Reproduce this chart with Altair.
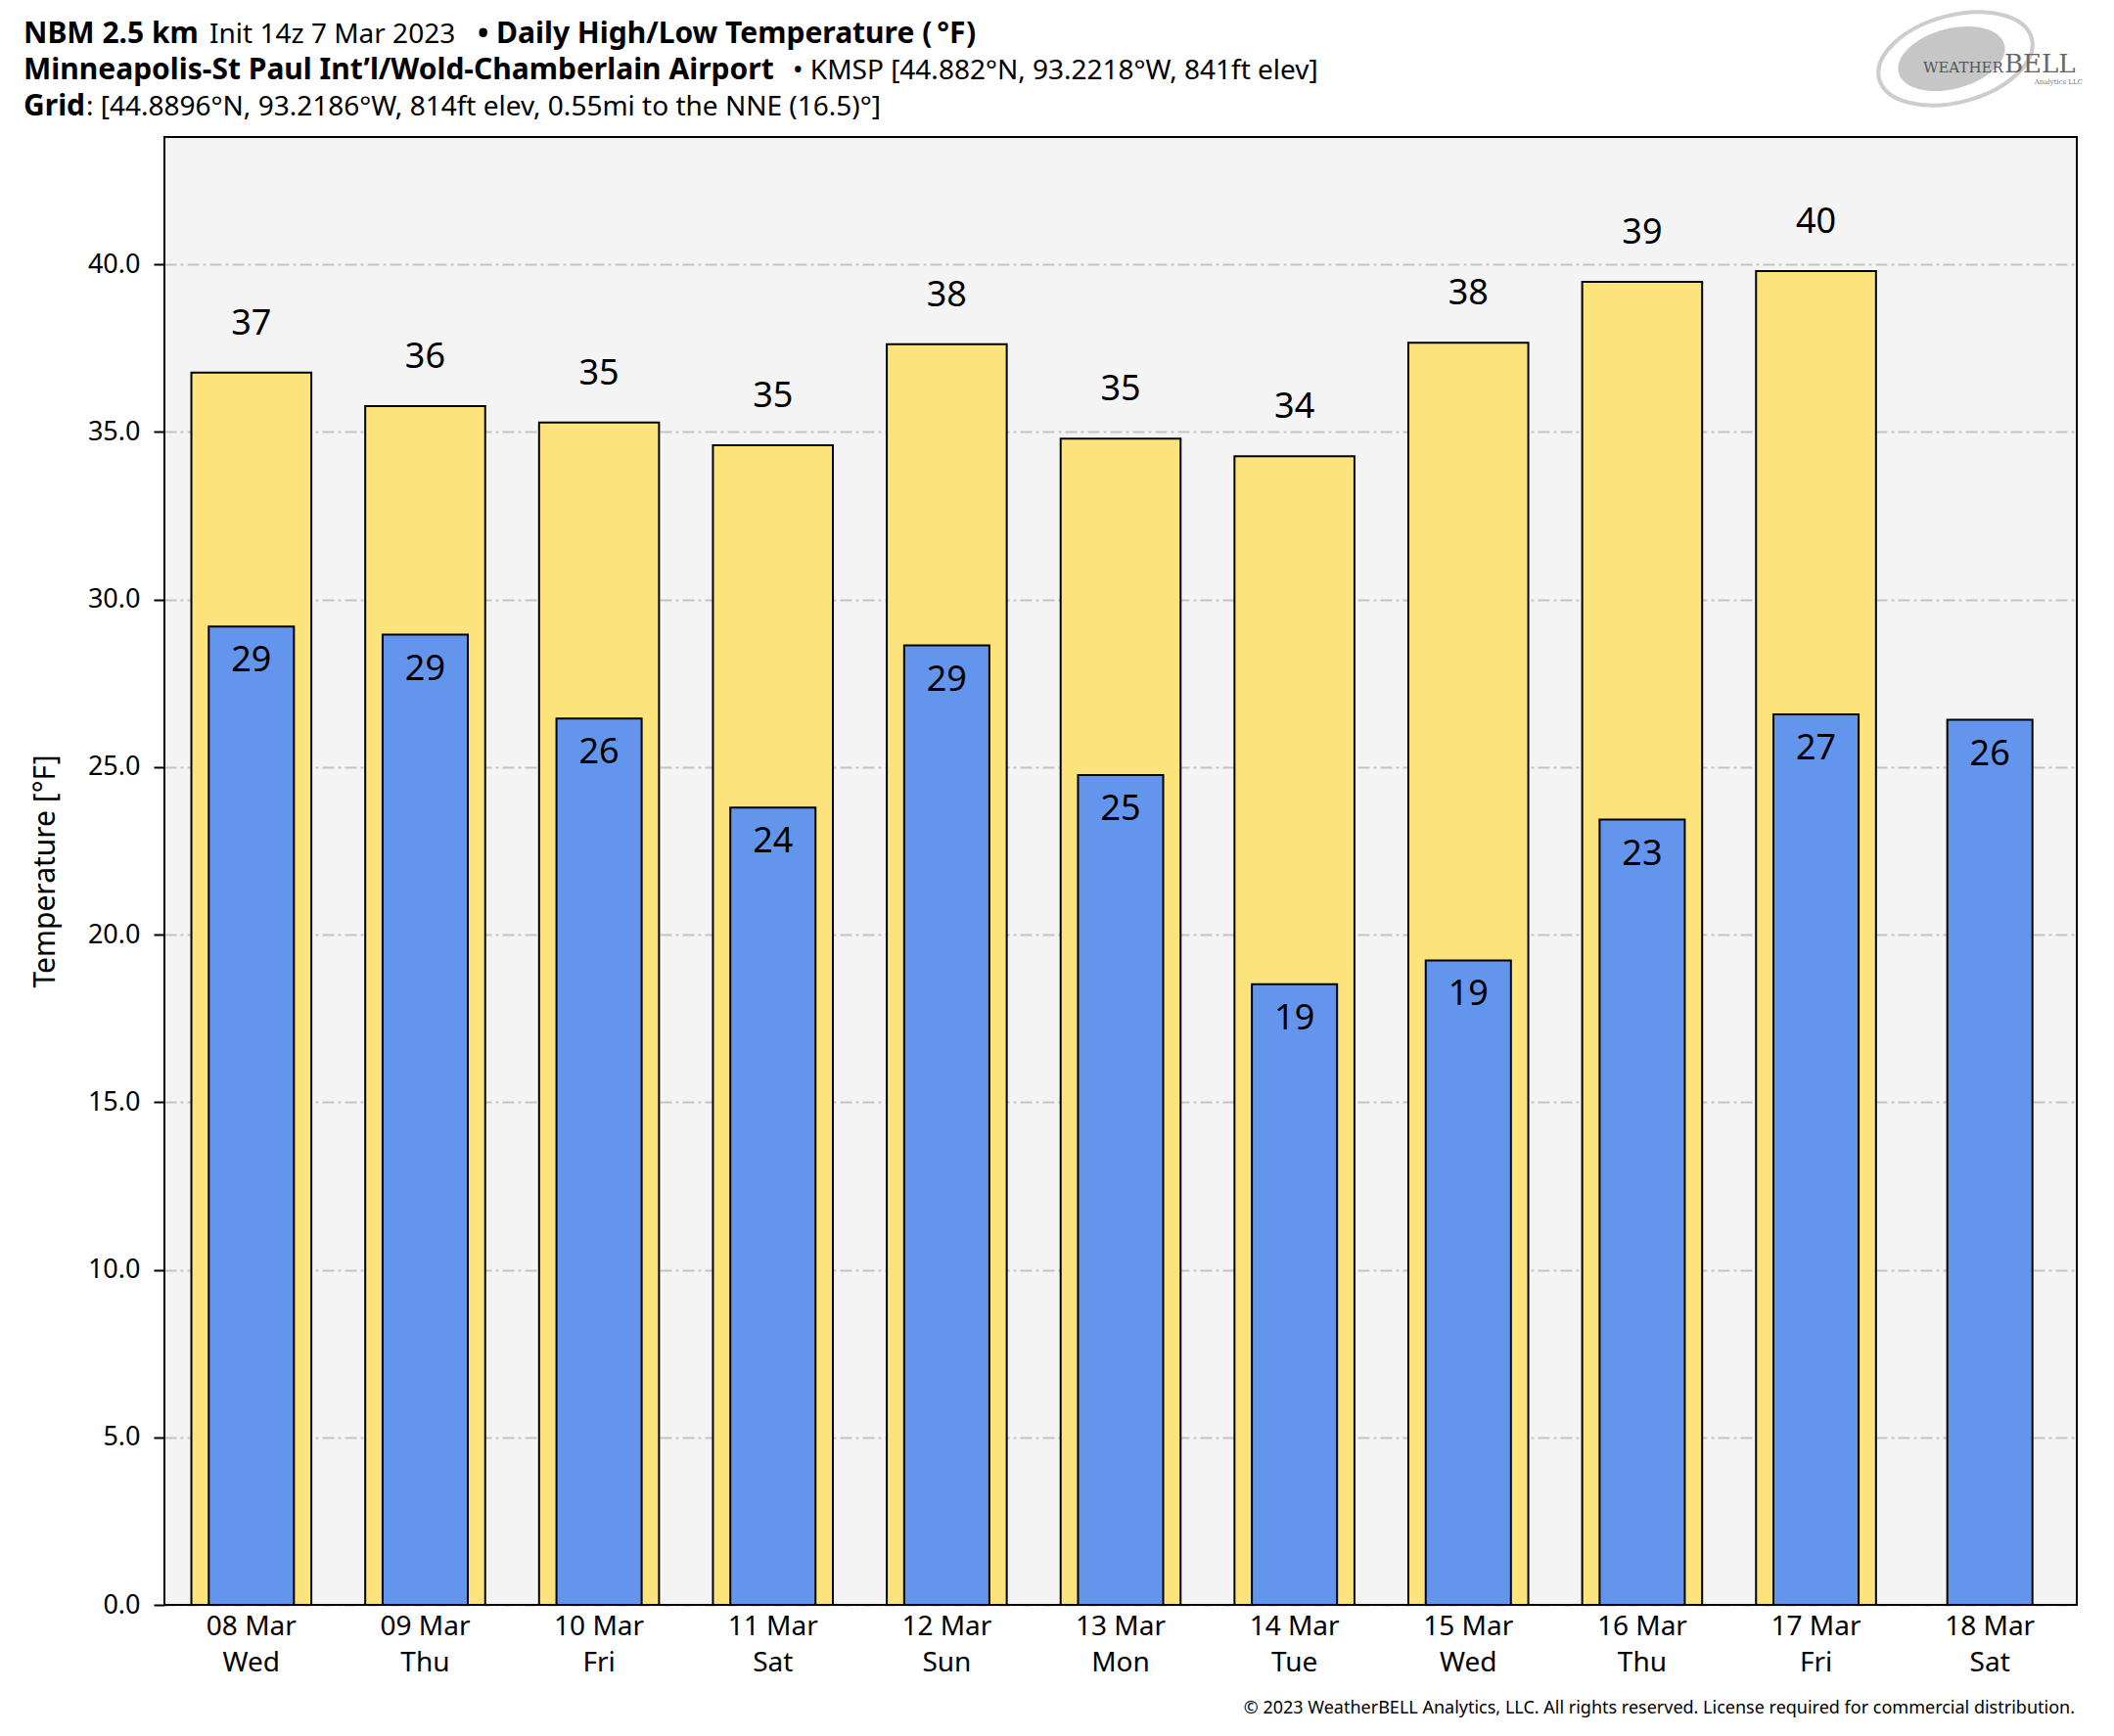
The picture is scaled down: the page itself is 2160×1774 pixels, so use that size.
import altair as alt
import pandas as pd

dates = ["08 Mar\nWed", "09 Mar\nThu", "10 Mar\nFri", "11 Mar\nSat", "12 Mar\nSun",
         "13 Mar\nMon", "14 Mar\nTue", "15 Mar\nWed", "16 Mar\nThu", "17 Mar\nFri",
         "18 Mar\nSat"]
highs = [36.77, 35.77, 35.28, 34.60, 37.62, 34.80, 34.27, 37.66, 39.48, 39.80, None]
lows = [29.19, 28.95, 26.45, 23.79, 28.63, 24.76, 18.52, 19.23, 23.43, 26.57, 26.41]
y_ticks = [0, 5, 10, 15, 20, 25, 30, 35, 40]

YELLOW = "#FCE37C"
BLUE = "#6495ED"
FONT = "Noto Sans"

df = pd.DataFrame({"date": dates, "high": highs, "low": lows})

W, H = 1954, 1500

x_enc = alt.X("date:N", sort=dates, title=None,
              scale=alt.Scale(paddingInner=0, paddingOuter=0),
              axis=alt.Axis(labelExpr="split(datum.label, '\\n')", labelAngle=0,
                            ticks=False, domain=False, grid=False,
                            labelFontSize=28, labelFont=FONT, labelColor="black",
                            labelPadding=8, labelLineHeight=37,
                            labelBaseline="top"))
y_scale = alt.Scale(domain=[0, 43.8], nice=False, zero=True)

base = alt.Chart(df)

high_bar = base.mark_bar(color=YELLOW, stroke="black", strokeWidth=2,
                         width=alt.RelativeBandSize(0.69)).encode(
    x=x_enc,
    y=alt.Y("high:Q", scale=y_scale,
            axis=alt.Axis(values=y_ticks, format=".1f", title="Temperature [°F]",
                          titleFont=FONT, titleFontSize=30, titleFontWeight="normal",
                          titleColor="black", titleX=-122, titleY=H / 2,
                          titleAngle=270, titleAlign="center", titleBaseline="middle",
                          labelFont=FONT, labelFontSize=27, labelColor="black",
                          labelPadding=14, tickSize=11, tickWidth=2, tickColor="black",
                          domain=False, grid=True, gridColor="#c4c4c4",
                          gridWidth=2, gridDash=[12, 4, 3, 4])),
)
low_bar = base.mark_bar(color=BLUE, stroke="black", strokeWidth=2,
                        width=alt.RelativeBandSize(0.49)).encode(
    x=alt.X("date:N", sort=dates),
    y=alt.Y("low:Q", scale=y_scale),
)
high_txt = base.mark_text(font=FONT, fontSize=36, color="black", baseline="middle",
                          dy=-50).encode(
    x=alt.X("date:N", sort=dates),
    y=alt.Y("high:Q", scale=y_scale),
    text=alt.Text("high:Q", format=".0f"),
)
low_txt = base.mark_text(font=FONT, fontSize=36, color="black", baseline="middle",
                         dy=35).encode(
    x=alt.X("date:N", sort=dates),
    y=alt.Y("low:Q", scale=y_scale),
    text=alt.Text("low:Q", format=".0f"),
)

one = pd.DataFrame({"k": [0]})

frame = alt.Chart(one).mark_rect(fillOpacity=0, stroke="black", strokeWidth=2).encode(
    x=alt.value(0), x2=alt.value(W), y=alt.value(0), y2=alt.value(H))


def label(text, x, y, size=28, weight="normal", color="black", align="left",
          font=FONT):
    return alt.Chart(one).mark_text(text=text, font=font, fontSize=size,
                                    fontWeight=weight, color=color, align=align,
                                    baseline="alphabetic").encode(
        x=alt.value(x), y=alt.value(y))


titles = [
    label("NBM 2.5 km", -144, -96, size=30, weight="bold"),
    label("Init 14z 7 Mar 2023", 46, -96),
    label("• Daily High/Low Temperature (\u2009°F)", 320, -96, size=30, weight="bold"),
    label("Minneapolis-St Paul Int\u2019l/Wold-Chamberlain Airport", -144, -59,
          size=30, weight="bold"),
    label("• KMSP [44.882°N, 93.2218°W, 841ft elev]", 642, -59),
    label("Grid", -144, -22, size=30, weight="bold"),
    label(": [44.8896°N, 93.2186°W, 814ft elev, 0.55mi to the NNE (16.5)°]", -80, -22),
    label("© 2023 WeatherBELL Analytics, LLC. All rights reserved. License required for commercial distribution.",
          W - 2, 1611, size=18, align="right"),
]

logo_shape = "M -1 0 A 1 0.55 0 1 0 1 0 A 1 0.55 0 1 0 -1 0 Z"
logo = [
    alt.Chart(one).mark_point(shape=logo_shape, filled=False, stroke="#b8b8b8",
                              strokeWidth=4, size=26000, angle=345).encode(
        x=alt.value(1830), y=alt.value(-80)),
    alt.Chart(one).mark_point(shape=logo_shape, filled=True, fill="#bcbcbc",
                              opacity=0.85, size=12500, angle=345).encode(
        x=alt.value(1826), y=alt.value(-80)),
    label("WEATHER", 1797, -66, size=15, color="#555555", font="DejaVu Serif"),
    label("BELL", 1880, -66, size=26, color="#666666", font="DejaVu Serif"),
    label("Analytics LLC", 1960, -54, size=7, color="#777777", align="right",
          font="DejaVu Serif"),
]

chart = alt.layer(high_bar, low_bar, high_txt, low_txt, frame, *titles, *logo).properties(
    width=W, height=H,
    padding={"left": 160, "top": 132, "right": 30, "bottom": 130},
    autosize=alt.AutoSizeParams(type="none"),
    background="white",
).configure_view(fill="#F4F4F4", stroke="black", strokeWidth=2)

chart.save("out.html", embed_options={"renderer": "svg", "actions": False})
